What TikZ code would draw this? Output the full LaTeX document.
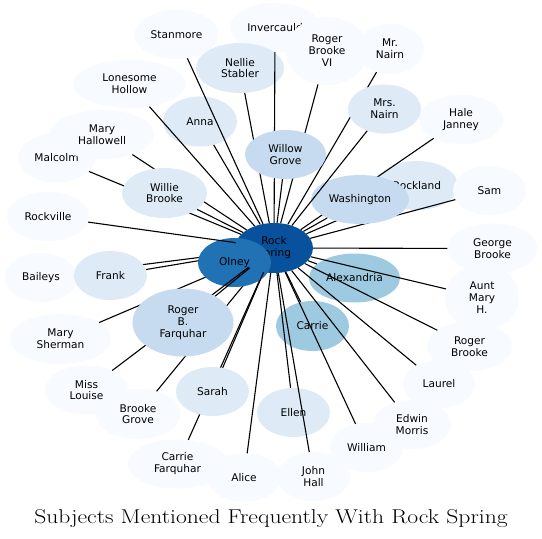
\documentclass[tikz,border=0pt]{standalone}
\usepackage{fontspec}
\newfontfamily\lab{DejaVu Sans}
\usetikzlibrary{shapes.geometric}
\definecolor{bA}{HTML}{F7FBFF}
\definecolor{bB}{HTML}{DEEBF7}
\definecolor{bC}{HTML}{C6DBEF}
\definecolor{bD}{HTML}{9ECAE1}
\definecolor{bG}{HTML}{2171B5}
\definecolor{bH}{HTML}{08519C}
\begin{document}
\begin{tikzpicture}[x=1pt,y=-1pt,
  vtx/.style={ellipse, inner sep=0pt, align=center, text=black,
    font=\lab\fontsize{10.6}{11.9}\selectfont},
  sz/.style 2 args={minimum width=#1pt, minimum height=#2pt},
  link/.style={draw=black, line width=1.1pt}]
\fill[white] (0,0) rectangle (542,539);
% ---- background nodes
\node[vtx, fill=bA, sz={84}{49}] (stan) at (176.5,34.5) {Stanmore};
\node[vtx, fill=bA, sz={90}{49}] (inver) at (275,27.5) {Invercauld};
\node[vtx, fill=bB, sz={88}{50}] (nellie) at (240,68) {Nellie\\Stabler};
\node[vtx, fill=bA, sz={68}{50}] (mrn) at (390,49) {Mr.\\Nairn};
\node[vtx, fill=bA, sz={82}{68}] (rbvi) at (327,51) {Roger\\Brooke\\VI};
\node[vtx, fill=bA, sz={113}{48}] (lh) at (129.5,84) {Lonesome\\Hollow};
\node[vtx, fill=bB, sz={74}{50}] (anna) at (200,121.5) {Anna};
\node[vtx, fill=bA, sz={77}{49}] (malc) at (56.5,158) {Malcolm};
\node[vtx, fill=bA, sz={104}{49}] (mh) at (102,134.5) {Mary\\Hallowell};
\node[vtx, fill=bA, sz={82}{49}] (rockv) at (48,216.5) {Rockville};
\node[vtx, fill=bA, sz={84}{49}] (hj) at (461,119.5) {Hale\\Janney};
\node[vtx, fill=bB, sz={82}{49}] (rockl) at (417,185.5) {Rockland};
\node[vtx, fill=bA, sz={73}{49}] (sam) at (489.5,190.5) {Sam};
\node[vtx, fill=bA, sz={90}{50}] (gb) at (492.5,248.5) {George\\Brooke};
\node[vtx, fill=bA, sz={74}{66}] (amh) at (482,297.5) {Aunt\\Mary\\H.};
\node[vtx, fill=bA, sz={85}{49}] (rb) at (469.5,346.5) {Roger\\Brooke};
\node[vtx, fill=bA, sz={72}{48}] (laurel) at (439,384) {Laurel};
\node[vtx, fill=bA, sz={78}{49}] (em) at (412,424.5) {Edwin\\Morris};
\node[vtx, fill=bA, sz={73}{49}] (william) at (366.5,447.5) {William};
\node[vtx, fill=bA, sz={73}{49}] (jh) at (313.5,476.5) {John\\Hall};
\node[vtx, fill=bA, sz={100}{49}] (cf) at (177.5,464) {Carrie\\Farquhar};
\node[vtx, fill=bA, sz={74}{48}] (alice) at (244,477.5) {Alice};
\node[vtx, fill=bB, sz={73}{49}] (ellen) at (293.5,412.5) {Ellen};
\node[vtx, fill=bD, sz={73}{50}] (carrie) at (312.5,326) {Carrie};
\node[vtx, fill=bD, sz={91}{49}] (alex) at (354.5,278) {Alexandria};
\node[vtx, fill=bH, sz={78}{50}] (rs) at (274,248) {Rock\\Spring};
\node[vtx, fill=bA, sz={72}{49}] (baileys) at (41,277.5) {Baileys};
\node[vtx, fill=bA, sz={101}{50}] (ms) at (60.5,339) {Mary\\Sherman};
\node[vtx, fill=bA, sz={85}{50}] (bg) at (138,414) {Brooke\\Grove};
\node[vtx, fill=bA, sz={83}{49}] (ml) at (86.5,390) {Miss\\Louise};
% ---- connectors that later nodes cover
\draw[link] (mh) -- (rs);
\draw[link] (malc) -- (rs);
\draw[link] (nellie) -- (rs);
\draw[link] (inver) -- (rs);
\draw[link] (rbvi) -- (rs);
\draw[link] (mrn) -- (rs);
\draw[link] (hj) -- (rs);
\draw[link] (sam) -- (rs);
\draw[link] (rockl) -- (rs);
\draw[link] (baileys) -- (rs);
\draw[link] (ms) -- (rs);
\draw[link] (bg) -- (rs);
\draw[link] (cf) -- (rs);
% ---- nodes over them
\node[vtx, fill=bB, sz={85}{50}] (wb) at (164.5,193) {Willie\\Brooke};
\node[vtx, fill=bC, sz={81}{49}] (wg) at (285.5,154.5) {Willow\\Grove};
\node[vtx, fill=bB, sz={73}{49}] (mrsn) at (384.5,109) {Mrs.\\Nairn};
\node[vtx, fill=bC, sz={98}{49}] (wash) at (360,199.5) {Washington};
\node[vtx, fill=bB, sz={73}{49}] (frank) at (110.5,275.5) {Frank};
\node[vtx, fill=bB, sz={73}{49}] (sarah) at (212.5,391.5) {Sarah};
\draw[link] (frank) -- (rs);
\node[vtx, fill=bG, sz={73}{49}] (olney) at (234.5,262.5) {Olney};
\draw[link] (ml) -- (rs);
\node[vtx, fill=bC, sz={101}{68}] (rbf) at (183,322.5) {Roger\\B.\\Farquhar};
% ---- remaining connectors
\foreach \n in {stan,lh,anna,wb,rockv,wg,mrsn,wash,gb,alex,amh,rb,laurel,em,william,jh,ellen,carrie,alice,sarah,rbf}
  \draw[link] (\n) -- (rs);
% ---- title
\node[anchor=base, inner sep=0pt, font=\fontsize{20}{24}\selectfont] (title) at (271,523.5)
  {\scalebox{1.18}[1]{Subjects Mentioned Frequently With Rock Spring}};
\end{tikzpicture}
\end{document}
